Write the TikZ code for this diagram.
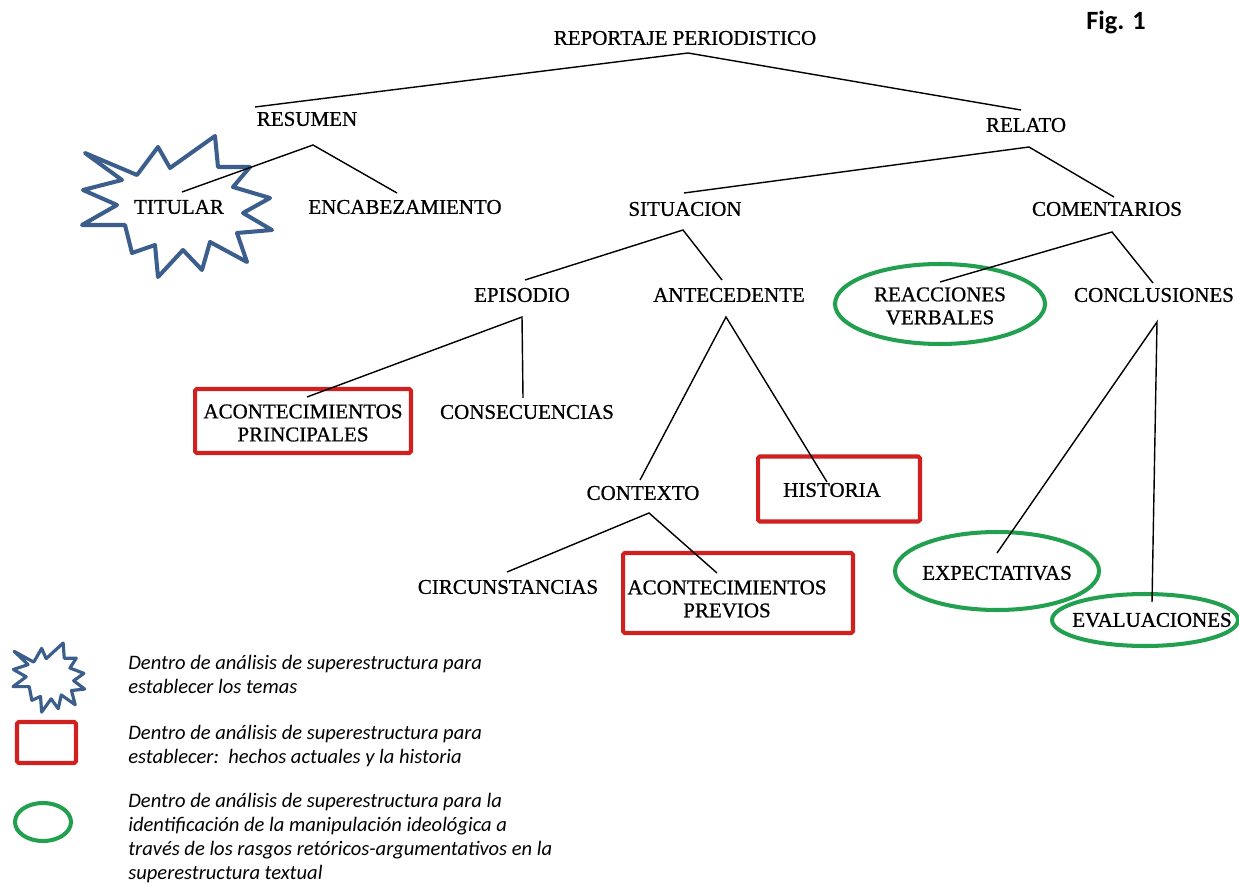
\documentclass[tikz,border=0pt]{standalone}
\usepackage{fontspec}
\setmainfont{Liberation Serif}
\newfontfamily\treefont[FakeBold=0.8]{Liberation Serif}
\newfontfamily\legfont{Carlito}
\usetikzlibrary{shapes.geometric}
\definecolor{starblue}{RGB}{59,94,140}
\definecolor{boxred}{RGB}{208,32,32}
\definecolor{ovalgreen}{RGB}{34,160,80}
\tikzset{
  burst/.pic={\draw[draw=starblue, line join=round] (85,153) -- (137,175) -- (158,147) -- (170,168) -- (215,136) -- (218,167) -- (250,167) -- (233,187) -- (270,198) -- (243,213) -- (272,230) -- (237,233) -- (247,262) -- (210,242) -- (202,270) -- (183,250) -- (158,277) -- (155,245) -- (132,253) -- (125,225) -- (82,225) -- (117,205) -- (83,190) -- (122,180) -- cycle;}
}
\begin{document}
\begin{tikzpicture}[x=0.02cm,y=-0.02cm,
  lbl/.style={inner sep=0pt, font=\treefont\fontsize{11.95}{13.1}\selectfont, align=center},
  edge/.style={line width=0.8pt},
  redbox/.style={draw=boxred, line width=2.3pt, rounded corners=1pt, inner sep=0pt},
  greenoval/.style={draw=ovalgreen, line width=2.3pt, ellipse, inner sep=0pt},
  legtext/.style={inner sep=0pt, anchor=west, align=left, font=\legfont\itshape\fontsize{11.7}{13.66}\selectfont},
]
\fill[white] (0,0) rectangle (1239,884);
\useasboundingbox (0,0) rectangle (1239,884);

% tree labels
\node[lbl] (rp) at (685,38) {REPORTAJE PERIODISTICO};
\node[lbl] (res) at (307,119) {RESUMEN};
\node[lbl] (rel) at (1026,125) {RELATO};
\node[lbl] (tit) at (179,207) {TITULAR};
\node[lbl] (enc) at (405,207) {ENCABEZAMIENTO};
\node[lbl] (sit) at (685,209) {SITUACION};
\node[lbl] (com) at (1107,209) {COMENTARIOS};
\node[lbl] (epi) at (522,295) {EPISODIO};
\node[lbl] (ant) at (729,295) {ANTECEDENTE};
\node[lbl] (rea) at (940,306) {REACCIONES\\VERBALES};
\node[lbl] (conc) at (1154,295) {CONCLUSIONES};
\node[lbl] (acp) at (303,423) {ACONTECIMIENTOS\\PRINCIPALES};
\node[lbl] (cons) at (527,412) {CONSECUENCIAS};
\node[lbl] (ctx) at (643,493) {CONTEXTO};
\node[lbl] (hist) at (832,490) {HISTORIA};
\node[lbl] (circ) at (508,587) {CIRCUNSTANCIAS};
\node[lbl] (prev) at (727,599) {ACONTECIMIENTOS\\PREVIOS};
\node[lbl] (exp) at (997,573) {EXPECTATIVAS};
\node[lbl] (eva) at (1152,620) {EVALUACIONES};

% frames
\pic[line width=2.3pt] {burst};
\node[greenoval, minimum width=4.2cm, minimum height=1.6cm] (reabox) at (940,304) {};
\node[redbox, minimum width=4.32cm, minimum height=1.28cm] (acpbox) at (303,421) {};
\node[redbox, minimum width=3.24cm, minimum height=1.3cm] (histbox) at (839,489) {};
\node[redbox, minimum width=4.6cm, minimum height=1.6cm] (prevbox) at (738,593) {};
\node[greenoval, minimum width=4.08cm, minimum height=1.56cm] (expbox) at (997,571) {};
\node[greenoval, minimum width=3.72cm, minimum height=1.04cm] (evabox) at (1145,620) {};

% connector points
\coordinate (a-rp) at (688,53);
\coordinate (t-res) at (255,107);
\coordinate (t-rel) at (1021,110);
\coordinate (a-res) at (313,145);
\coordinate (t-tit) at (182,192);
\coordinate (t-enc) at (397,193);
\coordinate (a-rel) at (1029,147);
\coordinate (t-sit) at (684,193);
\coordinate (t-com) at (1114,197);
\coordinate (a-sit) at (683,230);
\coordinate (t-epi) at (525,280);
\coordinate (t-ant) at (722,280);
\coordinate (a-com) at (1112,232);
\coordinate (t-rea) at (940,282);
\coordinate (t-conc) at (1153,283);
\coordinate (a-epi) at (522,317);
\coordinate (t-acp) at (307,397);
\coordinate (t-cons) at (523,398);
\coordinate (a-ant) at (726,317);
\coordinate (t-ctx) at (640,480);
\coordinate (t-hist) at (827,482);
\coordinate (a-conc) at (1157,322);
\coordinate (t-exp) at (997,553);
\coordinate (t-eva) at (1152,602);
\coordinate (a-ctx) at (649,513);
\coordinate (t-circ) at (507,572);
\coordinate (t-prev) at (717,573);

\draw[edge] (t-res) -- (a-rp) -- (t-rel);
\draw[edge] (t-tit) -- (a-res) -- (t-enc);
\draw[edge] (t-sit) -- (a-rel) -- (t-com);
\draw[edge] (t-epi) -- (a-sit) -- (t-ant);
\draw[edge] (t-rea) -- (a-com) -- (t-conc);
\draw[edge] (t-acp) -- (a-epi) -- (t-cons);
\draw[edge] (t-ctx) -- (a-ant) -- (t-hist);
\draw[edge] (t-exp) -- (a-conc) -- (t-eva);
\draw[edge] (t-circ) -- (a-ctx) -- (t-prev);

% figure label
\node[inner sep=0pt, font=\legfont\bfseries\fontsize{15}{18}\selectfont] (fig) at (1116,22) {Fig. 1};

% legend
\begin{scope}[shift={(13,643)}, xscale=0.377, yscale=0.49, shift={(-82,-136)}]
  \pic[line width=1.8pt, transform shape] {burst};
\end{scope}
\node[redbox, minimum width=1.18cm, minimum height=0.82cm] (legbox) at (46.5,742.5) {};
\node[greenoval, minimum width=1.12cm, minimum height=0.76cm] (legoval) at (43,822) {};
\node[legtext] (leg1) at (128,674) {Dentro de análisis de superestructura para\\establecer los temas};
\node[legtext] (leg2) at (128,746) {Dentro de análisis de superestructura para\\establecer:\ \ hechos actuales y la historia};
\node[legtext] (leg3) at (128,838) {Dentro de análisis de superestructura para la\\identificación de la manipulación ideológica a\\través de los rasgos retóricos-argumentativos en la\\superestructura textual};
\end{tikzpicture}
\end{document}
